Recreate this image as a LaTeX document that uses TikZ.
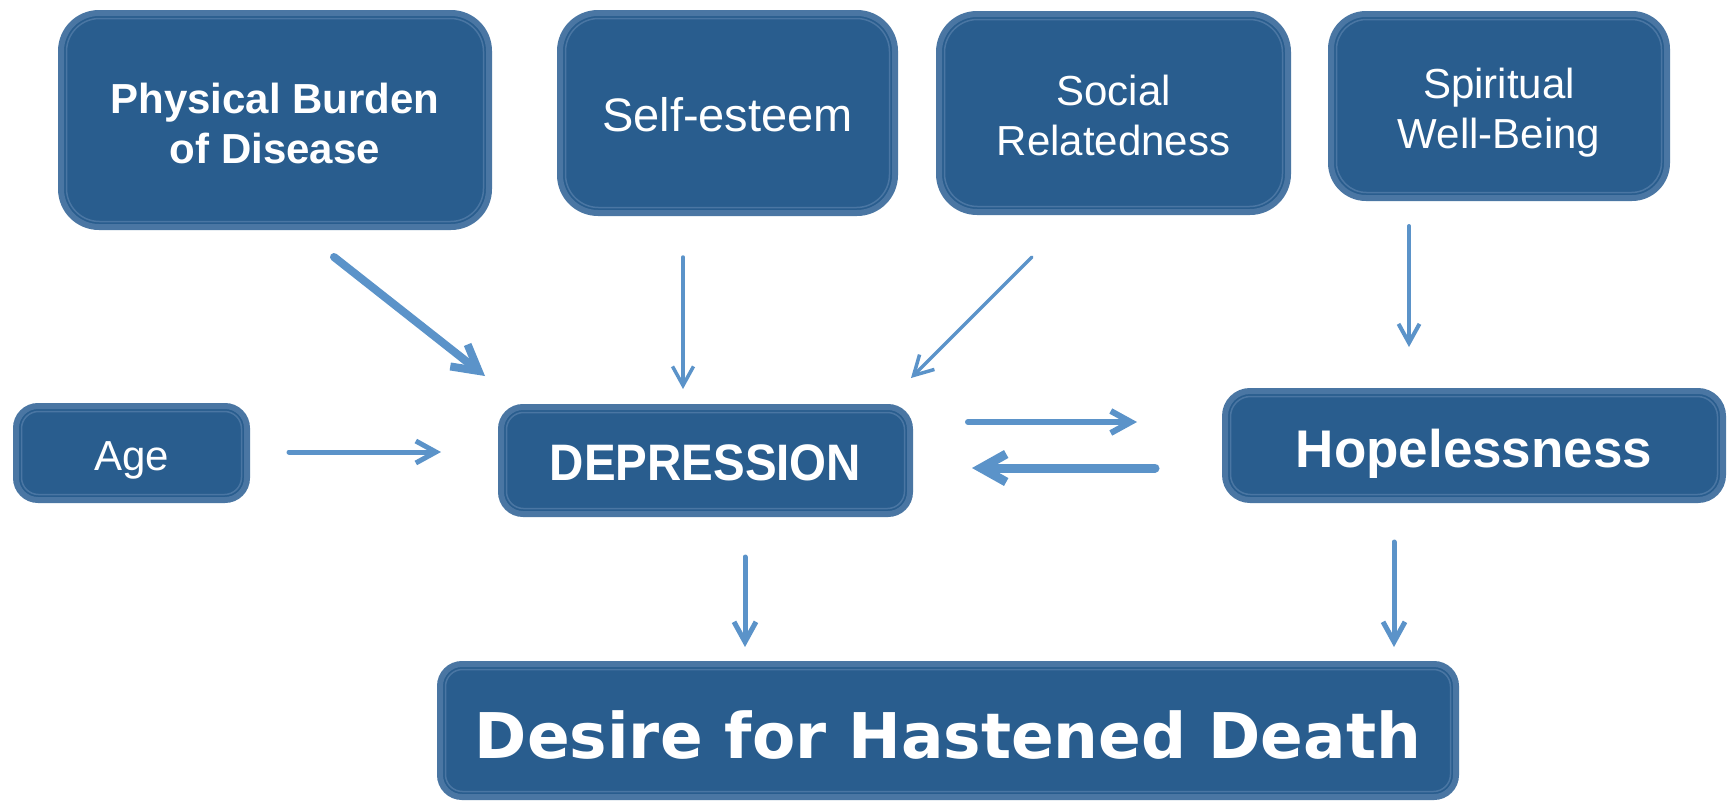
\documentclass[tikz,border=0pt]{standalone}
\usepackage{fontspec}
\setmainfont{Liberation Sans}
\newfontfamily\dvs{DejaVu Sans}
\usetikzlibrary{arrows.meta}
\definecolor{boxc}{HTML}{295D8E}
\definecolor{bordc}{HTML}{4A76A3}
\definecolor{arrc}{HTML}{5B93C9}
\newcommand{\twolines}[2]{\begin{tabular}[b]{@{}c@{}}#1\\#2\end{tabular}}
\tikzset{
  box/.style={draw=bordc, fill=boxc, line width=6pt, rounded corners=#1pt,
    text=white, inner sep=0pt, text depth=0pt,
    path picture={\draw[bordc, line width=1.5pt, rounded corners={#1pt-5pt}]
      ([shift={(5.5pt,5.5pt)}]path picture bounding box.south west) rectangle
      ([shift={(-5.5pt,-5.5pt)}]path picture bounding box.north east);}},
  conn/.style={draw=arrc, line width=#1pt, line cap=round},
  tipS/.style={-{Straight Barb[length=19pt,width=21pt]}},
  tipM/.style={-{Straight Barb[length=20pt,width=22pt]}},
  tipL/.style={-{Straight Barb[length=25pt,width=28pt]}},
  fa/.style={font=\fontsize{42pt}{50pt}\selectfont},
  fab/.style={font=\fontsize{42pt}{50pt}\selectfont\bfseries},
}
\begin{document}
\begin{tikzpicture}[x=1pt,y=-1pt]
\useasboundingbox (0,0) rectangle (1727,801);
% boxes
\node[box=38, fab, text height=86pt, minimum width=428pt, minimum height=214pt] (phys) at (275,120) {\twolines{Physical Burden}{of Disease}};
\node[box=38, font=\fontsize{47pt}{55pt}\selectfont, text height=36pt, minimum width=335pt, minimum height=200pt] (self) at (727.5,113) {Self-esteem};
\node[box=38, fa, text height=84pt, minimum width=349pt, minimum height=198pt] (soc) at (1113.5,113) {\twolines{Social}{Relatedness}};
\node[box=35, fa, text height=84pt, minimum width=336pt, minimum height=184pt] (spir) at (1499,106) {\twolines{Spiritual}{Well-Being}};
\node[box=22, fa, text height=34pt, minimum width=231pt, minimum height=94pt] (age) at (131.5,453) {Age};
\node[box=22, font=\fontsize{47.5pt}{55pt}\selectfont\bfseries, text height=39pt, minimum width=409pt, minimum height=107pt] (dep) at (705.5,460.5) {\scalebox{1}[1.08]{DEPRESSION}};
\node[box=25, font=\fontsize{53pt}{60pt}\selectfont\bfseries, text height=43pt, minimum width=498pt, minimum height=109pt] (hop) at (1474,445.5) {Hopelessness};
\node[box=22, font=\dvs\bfseries\fontsize{63pt}{72pt}\selectfont, text height=55pt, minimum width=1016pt, minimum height=133pt] (des) at (948,730.5) {Desire for Hastened Death};
% connector end points
\coordinate (a1s) at (334,257); \coordinate (a1e) at (485,376);
\coordinate (a2s) at (683,257); \coordinate (a2e) at (683,389);
\coordinate (a3s) at (1032,257); \coordinate (a3e) at (911,378);
\coordinate (a4s) at (1409,226); \coordinate (a4e) at (1409,347);
\coordinate (a5s) at (289,452); \coordinate (a5e) at (441,452);
\coordinate (a6s) at (968,422); \coordinate (a6e) at (1137,422);
\coordinate (a7s) at (1155,468); \coordinate (a7e) at (972,468);
\coordinate (a8s) at (745,557); \coordinate (a8e) at (745,647);
\coordinate (a9s) at (1394,542); \coordinate (a9e) at (1394,647);
% connectors
\draw[conn=8, tipL] (a1s) -- (a1e);
\draw[conn=3.5, tipS] (a2s) -- (a2e);
\draw[conn=3.5, tipS] (a3s) -- (a3e);
\draw[conn=4, tipS] (a4s) -- (a4e);
\draw[conn=5, tipM] (a5s) -- (a5e);
\draw[conn=6, tipM] (a6s) -- (a6e);
\draw[conn=9, tipL] (a7s) -- (a7e);
\draw[conn=5, tipM] (a8s) -- (a8e);
\draw[conn=5, tipM] (a9s) -- (a9e);
\end{tikzpicture}
\end{document}
